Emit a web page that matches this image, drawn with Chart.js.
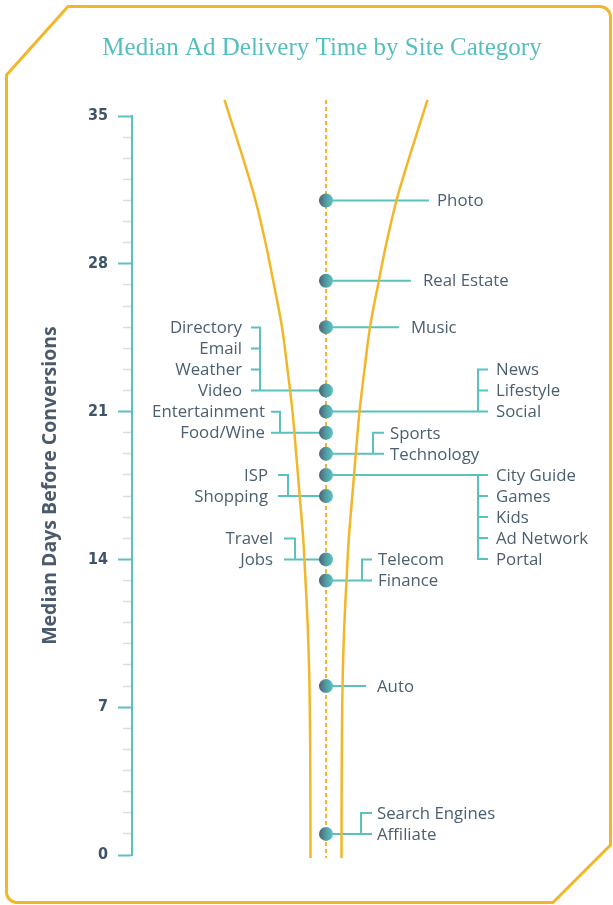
<!DOCTYPE html>
<html>
<head>
<meta charset="utf-8">
<title>Median Ad Delivery Time by Site Category</title>
<script src="https://cdn.jsdelivr.net/npm/chart.js@4.4.1/dist/chart.umd.min.js"></script>
<style>
  html, body { margin: 0; padding: 0; background: #fff; }
  canvas { display: block; }
</style>
</head>
<body>
<canvas id="chart" width="613" height="905"></canvas>
<script>
// Chart data
const chartTitle = 'Median Ad Delivery Time by Site Category';
const yTitle = 'Median Days Before Conversions';
const yTicks = [0, 7, 14, 21, 28, 35];

// one dot per median value, with the categories that share it
const groupDays = [31, 27.2, 25, 22, 21, 20, 19, 18, 17, 14, 13, 8, 1];
const groupNames = [
    ['Photo'],
    ['Real Estate'],
    ['Music'],
    ['Directory', 'Email', 'Weather', 'Video'],
    ['News', 'Lifestyle', 'Social'],
    ['Entertainment', 'Food/Wine'],
    ['Sports', 'Technology'],
    ['City Guide', 'Games', 'Kids', 'Ad Network', 'Portal'],
    ['ISP', 'Shopping'],
    ['Travel', 'Jobs'],
    ['Telecom', 'Finance'],
    ['Auto'],
    ['Search Engines', 'Affiliate']
];

// funnel outline: half width at a given day value
const funnelDays = [35.76, 33, 31, 29, 27, 25, 23, 21, 19, 17, 15, 13, 11, 9, 7, 4, -0.14];
const funnelSpread = [101.5, 83, 70.5, 60.5, 52, 44, 38.5, 33.5, 29.8, 26.3, 22.8, 20.5, 18.4, 17, 16.2, 15.7, 15.5];

// Colours and layout
const TEAL = '#5BC1BF';
const YELLOW = '#F2B728';
const TEXT = '#4B5F70';
const TICK_TEXT = '#3F5468';
const ROW = 21;

// side, row of the label that sits on the dot, bracket x, stub x, text x (offsets from the centre line)
const groupLayout = [
    { side: 'right', anchor: 0, stub: 102, text: 111 },
    { side: 'right', anchor: 0, stub: 84, text: 97 },
    { side: 'right', anchor: 0, stub: 72, text: 85 },
    { side: 'left', anchor: 3, bracket: -66, stub: -74, text: -84 },
    { side: 'right', anchor: 2, bracket: 152, stub: 161, text: 170 },
    { side: 'left', anchor: 1, bracket: -46, stub: -54, text: -61 },
    { side: 'right', anchor: 1, bracket: 47, stub: 57, text: 64 },
    { side: 'right', anchor: 0, bracket: 152, stub: 161, text: 170 },
    { side: 'left', anchor: 1, bracket: -38, stub: -47, text: -58 },
    { side: 'left', anchor: 1, bracket: -31, stub: -41, text: -53 },
    { side: 'right', anchor: 1, bracket: 36, stub: 45, text: 52 },
    { side: 'right', anchor: 0, stub: 39, text: 51 },
    { side: 'right', anchor: 1, bracket: 35, stub: 45, text: 51 }
];

// Frame and title
const framePlugin = {
    id: 'frame',
    beforeDraw(chart) {
        const ctx = chart.ctx;
        ctx.save();
        ctx.fillStyle = '#fff';
        ctx.fillRect(0, 0, chart.width, chart.height);

        ctx.strokeStyle = YELLOW;
        ctx.lineWidth = 3;
        ctx.lineJoin = 'round';
        ctx.beginPath();
        ctx.moveTo(68, 6.5);
        ctx.lineTo(600, 6.5);
        ctx.arcTo(610.5, 6.5, 610.5, 17, 10.5);
        ctx.lineTo(610.5, 845);
        ctx.lineTo(553, 902.5);
        ctx.lineTo(17, 902.5);
        ctx.arcTo(6.5, 902.5, 6.5, 892, 10.5);
        ctx.lineTo(6.5, 75);
        ctx.closePath();
        ctx.stroke();

        ctx.fillStyle = '#55BEBE';
        ctx.font = '25px "Liberation Serif", serif';
        ctx.textAlign = 'center';
        ctx.textBaseline = 'alphabetic';
        ctx.fillText(chartTitle, 322, 55);
        ctx.restore();
    }
};

// Connectors under the dots, labels on top
const labelPlugin = {
    id: 'siteLabels',
    beforeDatasetsDraw(chart) {
        const ctx = chart.ctx;
        const cx = chart.scales.x.getPixelForValue(0);
        const y = chart.scales.y;
        ctx.save();
        ctx.strokeStyle = TEAL;
        ctx.lineWidth = 2;
        ctx.lineCap = 'square';
        groupDays.forEach((d, i) => {
            const L = groupLayout[i];
            const names = groupNames[i];
            const yDot = y.getPixelForValue(d);
            const rowY = k => yDot + (k - L.anchor) * ROW;
            ctx.beginPath();
            ctx.moveTo(cx, yDot);
            ctx.lineTo(cx + L.stub, yDot);
            if (names.length > 1) {
                ctx.moveTo(cx + L.bracket, rowY(0));
                ctx.lineTo(cx + L.bracket, rowY(names.length - 1));
                names.forEach((n, k) => {
                    if (k === L.anchor) return;
                    ctx.moveTo(cx + L.bracket, rowY(k));
                    ctx.lineTo(cx + L.stub, rowY(k));
                });
            }
            ctx.stroke();
        });
        ctx.restore();
    },
    afterDatasetsDraw(chart) {
        const ctx = chart.ctx;
        const cx = chart.scales.x.getPixelForValue(0);
        const y = chart.scales.y;
        ctx.save();
        ctx.fillStyle = TEXT;
        ctx.font = '16.8px "Open Sans", sans-serif';
        ctx.textBaseline = 'middle';
        groupDays.forEach((d, i) => {
            const L = groupLayout[i];
            const yDot = y.getPixelForValue(d);
            ctx.textAlign = L.side === 'left' ? 'right' : 'left';
            groupNames[i].forEach((name, k) => {
                ctx.fillText(name, cx + L.text, yDot + (k - L.anchor) * ROW + 1);
            });
        });
        ctx.restore();
    }
};

// dark slate on the left of each dot, teal on the right
function dotFill(c) {
    const chart = c.chart;
    const xs = chart.scales && chart.scales.x;
    const cx = xs ? xs.getPixelForValue(0) : NaN;
    if (!isFinite(cx)) return TEAL;
    const g = chart.ctx.createLinearGradient(cx - 7, 0, cx + 7, 0);
    g.addColorStop(0, '#4D6172');
    g.addColorStop(0.5, '#529CA3');
    g.addColorStop(1, '#5CC4C1');
    return g;
}

const ctx = document.getElementById('chart').getContext('2d');
new Chart(ctx, {
    type: 'scatter',
    data: {
        datasets: [
            {
                label: 'Median days',
                data: groupDays.map(d => ({ x: 0, y: d })),
                pointRadius: 7,
                pointBorderWidth: 0,
                pointBackgroundColor: dotFill,
                clip: false
            },
            {
                label: 'centre',
                data: [
                    { x: 0, y: funnelDays[0] },
                    { x: 0, y: funnelDays[funnelDays.length - 1] }
                ],
                showLine: true,
                borderColor: YELLOW,
                borderWidth: 2,
                borderDash: [4, 3],
                pointRadius: 0,
                clip: false
            },
            {
                label: 'funnel left',
                data: funnelDays.map((d, i) => ({ x: -funnelSpread[i], y: d })),
                showLine: true,
                borderColor: YELLOW,
                borderWidth: 2.5,
                pointRadius: 0,
                tension: 0.3,
                clip: false
            },
            {
                label: 'funnel right',
                data: funnelDays.map((d, i) => ({ x: funnelSpread[i], y: d })),
                showLine: true,
                borderColor: YELLOW,
                borderWidth: 2.5,
                pointRadius: 0,
                tension: 0.3,
                clip: false
            }
        ]
    },
    options: {
        responsive: false,
        animation: false,
        events: [],
        layout: { autoPadding: false, padding: { top: 116, bottom: 50, left: 0, right: 0 } },
        plugins: {
            legend: { display: false },
            tooltip: { enabled: false }
        },
        scales: {
            x: { type: 'linear', min: -194, max: 287, display: false },
            y: {
                type: 'linear',
                position: 'left',
                min: 0,
                max: 35,
                weight: 1,
                afterBuildTicks: axis => { axis.ticks = yTicks.map(v => ({ value: v })); },
                afterFit: axis => { axis.width = 132; },
                grid: {
                    drawOnChartArea: false,
                    drawTicks: true,
                    tickLength: 14,
                    tickColor: TEAL,
                    tickWidth: 2
                },
                border: { display: true, color: TEAL, width: 2 },
                ticks: {
                    padding: 10,
                    color: TICK_TEXT,
                    font: { family: '"Liberation Sans Narrow", "DejaVu Sans Condensed", sans-serif', size: 16, weight: 'bold' }
                },
                title: {
                    display: true,
                    text: yTitle,
                    color: '#4B5B6C',
                    font: { family: '"Open Sans", sans-serif', size: 19.5, weight: 'bold' },
                    padding: { top: 39, bottom: 0 }
                }
            },
            yMinor: {
                type: 'linear',
                position: 'left',
                min: 0,
                max: 35,
                weight: 0,
                afterFit: axis => { axis.width = 0; },
                ticks: { stepSize: 1, display: false },
                grid: {
                    drawOnChartArea: false,
                    drawTicks: true,
                    tickLength: 9,
                    tickWidth: 1.5,
                    tickColor: c => (c.tick && c.tick.value % 7 === 0) ? 'rgba(0,0,0,0)' : '#D6DEE4'
                },
                border: { display: false }
            }
        }
    },
    plugins: [framePlugin, labelPlugin]
});
</script>
</body>
</html>
